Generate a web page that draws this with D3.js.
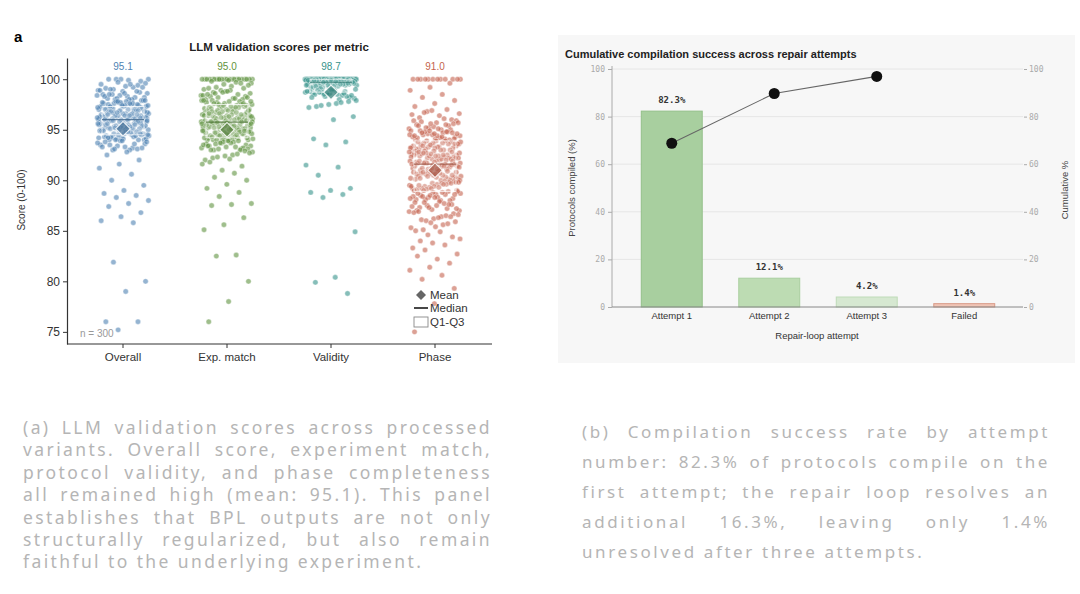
<!DOCTYPE html>
<html>
<head>
<meta charset="utf-8">
<script src="https://cdn.jsdelivr.net/npm/d3@7"></script>
<style>
  body { margin: 0; width: 1080px; height: 594px; overflow: hidden; position: relative; background: #fff; font-family: "Liberation Sans", Arial, sans-serif; }
  svg { position: absolute; left: 0; top: 0; }
  .cap { position: absolute; color: #b5b5b5; font-family: "Noto Sans", sans-serif; }
  .cap div { text-align: justify; text-align-last: justify; }
  .cap div.last { text-align-last: left; }
  #capA { left: 23px; top: 416px; width: 469px; font-size: 17.5px; line-height: 22.4px; letter-spacing: 2.4px; }
  #capB { left: 582px; top: 417px; width: 468px; font-size: 17px; line-height: 30px; letter-spacing: 2.6px; }
</style>
</head>
<body>
<script>
// ---- panel a data ----
const categories = ["Overall", "Exp. match", "Validity", "Phase"];
const meanLabels = [95.1, 95.0, 98.7, 91.0];
const groupColors = ["#4f82b3", "#5f9240", "#35928a", "#c4634e"];
const yTicksA = [75, 80, 85, 90, 95, 100];

const overallScores = [100,100,99.9,100,99.8,100,
  99.5,99.2,99.0,99.6,99.3,99.1,99.4,99.7,98.9,99.5,99.0,99.2,
  98.8,98.5,98.2,98.0,98.6,98.3,98.1,98.7,98.4,98.9,98.0,98.5,98.2,98.6,98.3,98.8,98.1,98.4,98.0,98.5,
  97.9,97.5,97.2,97.0,97.6,97.3,97.8,97.1,97.4,97.7,97.0,97.5,97.2,97.9,97.3,97.6,97.1,97.8,97.4,97.0,97.5,97.2,97.7,97.3,97.6,97.1,97.9,97.4,97.0,97.5,97.8,97.2,97.6,97.3,97.1,97.4,97.7,
  96.9,96.5,96.2,96.0,96.6,96.3,96.8,96.1,96.4,96.7,96.0,96.5,96.2,96.9,96.3,96.6,96.1,96.8,96.4,96.0,96.5,96.2,96.7,96.3,96.6,96.1,96.9,96.4,96.0,96.5,96.8,96.2,96.6,96.3,96.1,96.4,96.7,96.0,96.5,96.2,96.9,96.3,96.6,96.1,96.8,96.4,96.0,96.5,96.7,96.2,96.4,
  95.9,95.5,95.2,95.0,95.6,95.3,95.8,95.1,95.4,95.7,95.0,95.5,95.2,95.9,95.3,95.6,95.1,95.8,95.4,95.0,95.5,95.2,95.7,95.3,95.6,95.1,95.9,95.4,95.0,95.5,95.8,95.2,95.6,95.3,95.1,95.4,95.7,95.0,95.5,95.2,95.9,95.3,95.6,95.1,95.8,
  94.9,94.5,94.2,94.0,94.6,94.3,94.8,94.1,94.4,94.7,94.0,94.5,94.2,94.9,94.3,94.6,94.1,94.8,94.4,94.0,94.5,94.2,94.7,94.3,94.6,94.1,94.9,94.4,94.0,94.5,94.8,94.2,94.6,
  93.9,93.5,93.2,93.0,93.6,93.3,93.8,93.1,93.4,93.7,93.0,93.5,93.2,93.9,93.3,93.6,93.1,93.8,
  92.8,92.5,92.0,91.6,91.2,90.6,90.0,89.5,89.0,88.7,88.5,88.3,88.0,87.7,87.4,86.8,86.4,86.0,85.8,81.9,80.0,79.0,76.0,76.0,75.2];

const expMatchScores = [100,100,100,100,100,100,100,100,100,100,100,100,100,100,100,100,100,100,100,100,100,100,
  99.6,99.3,99.8,99.1,99.5,99.0,99.7,99.2,99.4,99.9,99.1,99.6,
  98.9,98.4,98.1,98.7,98.3,98.8,98.0,98.5,98.2,98.6,98.9,98.3,98.0,98.7,98.4,98.1,98.6,98.2,98.8,98.5,
  97.8,97.2,97.5,97.0,97.9,97.3,97.6,97.1,97.4,97.7,97.0,97.8,97.2,97.5,97.3,97.9,97.1,97.6,97.4,97.0,97.7,97.2,97.5,97.8,97.3,97.1,97.6,97.4,97.9,97.2,
  96.7,96.2,96.9,96.4,96.0,96.6,96.1,96.8,96.3,96.5,96.0,96.7,96.2,96.9,96.4,96.1,96.6,96.3,96.8,96.5,96.0,96.2,96.7,96.4,96.9,96.1,96.6,96.3,96.5,96.8,96.0,96.2,96.4,96.7,96.1,96.9,96.3,96.6,96.5,96.2,
  95.8,95.3,95.6,95.1,95.9,95.4,95.0,95.7,95.2,95.5,95.8,95.1,95.6,95.3,95.0,95.9,95.4,95.7,95.2,95.5,95.0,95.8,95.3,95.6,95.1,95.4,95.9,95.2,95.7,95.5,95.0,95.3,95.8,95.1,95.6,95.4,95.2,95.9,95.7,95.5,95.0,95.3,95.6,95.1,95.8,
  94.6,94.1,94.9,94.3,94.7,94.0,94.5,94.2,94.8,94.4,94.1,94.6,94.0,94.9,94.3,94.7,94.2,94.5,94.8,94.0,94.4,94.6,94.1,94.9,94.3,94.7,94.2,94.5,94.0,94.8,94.4,94.6,94.1,94.3,94.9,94.7,94.2,94.5,94.0,94.8,
  93.9,93.4,93.1,93.7,93.2,93.8,93.0,93.5,93.3,93.6,93.9,93.1,93.4,93.7,93.0,93.2,93.8,93.5,93.3,93.6,93.1,93.9,93.4,93.0,93.7,
  92.8,92.5,92.2,92.9,92.4,92.0,92.6,92.3,92.7,92.1,
  91.8,91.4,91.0,91.6,90.7,90.3,90.0,89.6,89.2,88.8,88.4,87.7,87.6,87.5,86.3,85.6,85.1,82.6,82.5,80.0,78.0,76.0];

const validityScores = [100,100,100,100,100,100,100,100,100,100,100,100,100,100,100,100,100,100,100,100,
  100,100,100,100,100,100,100,100,100,100,100,100,100,100,100,100,100,100,100,100,
  100,100,100,100,100,100,100,100,100,100,100,100,100,100,100,100,100,100,100,100,
  99.9,99.7,99.8,99.5,99.9,99.6,99.8,99.4,99.7,99.9,99.3,99.6,99.8,99.5,99.9,99.7,99.2,99.8,99.6,99.4,
  99.9,99.7,99.5,99.8,99.3,99.6,99.9,99.1,99.7,99.8,99.4,99.6,99.9,99.5,99.2,99.7,99.8,99.0,99.6,99.3,
  99.9,99.5,99.7,99.4,99.8,99.1,99.6,99.9,99.2,99.5,99.7,99.0,99.8,99.3,99.6,99.4,99.9,99.5,99.1,99.7,
  98.9,98.6,98.8,98.3,98.7,98.5,98.9,98.2,98.6,98.8,98.4,98.7,98.1,98.9,98.5,98.3,98.6,98.8,98.0,98.7,98.4,98.9,98.2,98.6,98.5,
  97.9,97.6,97.3,97.8,97.5,97.2,97.7,97.4,
  96.3,96.0,94.1,93.8,93.5,91.5,91.3,90.5,89.2,89.0,88.8,88.6,88.3,84.9,80.4,79.9,78.8];

const phaseScores = [100,100,100,100,100,100,100,100,100,100,100,100,
  99.6,99.2,98.9,98.5,98.2,97.9,97.6,97.3,97.0,96.8,96.6,96.4,96.2,96.0,96.9,96.5,96.1,96.7,
  95.9,95.7,95.5,95.4,95.2,95.1,95.0,95.8,95.6,95.3,95.9,95.5,95.2,95.7,95.1,95.4,95.0,95.6,
  94.9,94.7,94.5,94.3,94.1,94.0,94.8,94.6,94.4,94.2,94.9,94.7,94.5,94.3,94.1,94.8,94.6,94.4,94.2,94.0,94.9,94.5,94.3,94.7,94.1,94.6,94.4,94.8,
  93.9,93.6,93.3,93.1,93.8,93.5,93.2,93.0,93.7,93.4,93.9,93.1,93.6,93.3,93.8,93.0,93.5,93.2,93.7,93.4,93.9,93.1,93.6,93.3,93.8,93.0,93.5,93.2,93.7,93.4,93.6,93.2,
  92.9,92.5,92.2,92.7,92.0,92.4,92.8,92.1,92.6,92.3,92.9,92.5,92.0,92.7,92.2,92.4,92.8,92.1,92.6,92.3,92.9,92.5,92.0,92.7,92.2,92.4,92.8,92.1,92.6,92.3,92.5,92.7,92.2,92.4,
  91.8,91.4,91.1,91.7,91.3,91.0,91.9,91.5,91.2,91.6,91.8,91.4,91.1,91.7,91.3,91.0,91.9,91.5,91.2,91.6,91.8,91.4,91.1,91.7,91.3,91.0,91.9,91.5,91.2,91.6,91.4,91.7,
  90.8,90.3,90.6,90.1,90.9,90.4,90.0,90.7,90.2,90.5,90.8,90.3,90.6,90.1,90.9,90.4,90.0,90.7,90.2,90.5,90.8,90.3,90.6,90.1,90.9,90.4,90.0,90.7,90.2,90.5,
  89.7,89.2,89.9,89.4,89.0,89.6,89.1,89.8,89.3,89.5,89.7,89.2,89.9,89.4,89.0,89.6,89.1,89.8,89.3,89.5,89.7,89.2,89.4,89.6,89.0,89.8,
  88.6,88.1,88.9,88.3,88.7,88.0,88.5,88.2,88.8,88.4,88.6,88.1,88.9,88.3,88.7,88.0,88.5,88.2,88.8,88.4,88.6,88.3,
  87.8,87.2,87.5,87.0,87.9,87.3,87.6,87.1,87.4,87.7,87.8,87.2,87.5,87.0,87.6,87.3,
  86.9,86.4,86.1,86.7,86.2,86.8,86.5,86.0,86.6,86.3,86.9,86.4,
  85.8,85.3,85.6,85.1,85.9,85.4,85.0,85.7,
  84.6,84.2,84.9,84.0,84.4, 83.8,83.3,83.6,83.1, 82.7,82.2,82.5, 81.8,81.4,81.1, 80.6,80.2,
  79.3,77.8,75.0];

const scoreGroups = [overallScores, expMatchScores, validityScores, phaseScores];

// ---- panel b data ----
const attempts = ["Attempt 1", "Attempt 2", "Attempt 3", "Failed"];
const compiledPct = [82.3, 12.1, 4.2, 1.4];
const cumulativePct = [68.8, 89.7, 96.9];
const barFills = ["#a8cf9f", "#bddcb3", "#d6e8d1", "#f0c5b6"];
const barStrokes = ["#93c089", "#a9cf9e", "#bfdbb8", "#d99a86"];
const yTicksB = [0, 20, 40, 60, 80, 100];

const svg = d3.select("body").append("svg")
  .attr("width", 1080)
  .attr("height", 594);

// ================= panel a =================
const yA = d3.scaleLinear().domain([73.8, 102.1]).range([344, 58]);
const xA = d3.scaleBand().domain(categories).range([71, 487]);

svg.append("text").attr("x", 14).attr("y", 42)
  .style("font-size", "15px").style("font-weight", "bold").text("a");

svg.append("text").attr("x", 279).attr("y", 51).attr("text-anchor", "middle")
  .style("font-size", "11.5px").style("font-weight", "bold").attr("fill", "#222")
  .text("LLM validation scores per metric");

let yAxisA = svg.append("g")
  .attr("transform", "translate(67,0)")
  .call(d3.axisLeft(yA).tickValues(yTicksA).tickSize(4).tickSizeOuter(0));
yAxisA.select(".domain").attr("stroke", "#333").attr("stroke-width", 1.2);
yAxisA.selectAll(".tick line").attr("stroke", "#333");
yAxisA.selectAll(".tick text").attr("fill", "#333")
  .style("font-size", "12px").style("font-family", "Liberation Sans, Arial, sans-serif");

let xAxisA = svg.append("g")
  .attr("transform", "translate(0,344)")
  .call(d3.axisBottom(xA).tickSize(4).tickSizeOuter(0));
xAxisA.select(".domain").remove();
xAxisA.selectAll(".tick line").attr("stroke", "#333");
xAxisA.selectAll(".tick text").attr("fill", "#333").attr("dy", "0.9em")
  .style("font-size", "11.5px").style("font-family", "Liberation Sans, Arial, sans-serif");
svg.append("line").attr("x1", 67).attr("x2", 492).attr("y1", 344).attr("y2", 344)
  .attr("stroke", "#333").attr("stroke-width", 1.2);

svg.append("text")
  .attr("transform", "translate(25,200) rotate(-90)")
  .attr("text-anchor", "middle")
  .style("font-size", "10px").attr("fill", "#333")
  .text("Score (0-100)");

// deterministic jitter from the point index (layout only)
const jitter = i => ((i * 0.6180339887 + 0.37) % 1 - 0.5) * 2;

scoreGroups.forEach((vals, gi) => {
  const cat = categories[gi];
  const cx = xA(cat) + xA.bandwidth() / 2;
  const col = groupColors[gi];

  svg.append("g").selectAll("circle")
    .data(vals)
    .enter()
    .append("circle")
      .attr("cx", (d, i) => cx + jitter(i) * 26)
      .attr("cy", d => yA(d))
      .attr("r", 2.7)
      .attr("fill", col)
      .attr("fill-opacity", 0.6)
      .attr("stroke", "#fff")
      .attr("stroke-width", 0.4);

  const sorted = vals.slice().sort(d3.ascending);
  const q1 = d3.quantile(sorted, 0.25);
  const q3 = d3.quantile(sorted, 0.75);
  const med = d3.quantile(sorted, 0.5);

  svg.append("rect")
    .attr("x", cx - 21).attr("width", 42)
    .attr("y", yA(q3)).attr("height", Math.max(1, yA(q1) - yA(q3)))
    .attr("fill", "#fff").attr("fill-opacity", 0.18)
    .attr("stroke", "#fff").attr("stroke-opacity", 0.75).attr("stroke-width", 1);

  svg.append("line")
    .attr("x1", cx - 21).attr("x2", cx + 21)
    .attr("y1", yA(med)).attr("y2", yA(med))
    .attr("stroke", d3.color(col).darker(0.7)).attr("stroke-opacity", 0.8).attr("stroke-width", 1.2);

  svg.append("path")
    .attr("d", d3.symbol().type(d3.symbolSquare).size(105)())
    .attr("transform", `translate(${cx},${yA(meanLabels[gi])}) rotate(45)`)
    .attr("fill", d3.color(col).darker(0.5)).attr("fill-opacity", 0.7)
    .attr("stroke", "#fff").attr("stroke-opacity", 0.85).attr("stroke-width", 1.1);

  svg.append("text")
    .attr("x", cx).attr("y", 70).attr("text-anchor", "middle")
    .style("font-size", "10px").attr("fill", col)
    .text(meanLabels[gi].toFixed(1));
});

svg.append("text").attr("x", 80).attr("y", 337)
  .style("font-size", "10px").attr("fill", "#999").text("n = 300");

// legend
const lg = svg.append("g").style("font-size", "11.5px").attr("fill", "#333");
lg.append("path")
  .attr("d", d3.symbol().type(d3.symbolSquare).size(50)())
  .attr("transform", "translate(421,295) rotate(45)")
  .attr("fill", "#666");
lg.append("text").attr("x", 430).attr("y", 299).text("Mean");
lg.append("line").attr("x1", 414).attr("x2", 428).attr("y1", 308).attr("y2", 308)
  .attr("stroke", "#333").attr("stroke-width", 1.8);
lg.append("text").attr("x", 430).attr("y", 312).text("Median");
lg.append("rect").attr("x", 414).attr("y", 317).attr("width", 14).attr("height", 10)
  .attr("fill", "none").attr("stroke", "#888").attr("stroke-width", 0.9);
lg.append("text").attr("x", 430).attr("y", 326).text("Q1-Q3");

// ================= panel b =================
svg.append("rect").attr("x", 558).attr("y", 35).attr("width", 517).attr("height", 328)
  .attr("fill", "#f7f7f7");

const xB = d3.scaleBand().domain(attempts).range([623, 1013])
  .paddingInner(0.375).paddingOuter(0.1875);
const yB = d3.scaleLinear().domain([0, 100]).range([307, 69]);

svg.append("text").attr("x", 565).attr("y", 58)
  .style("font-size", "11px").style("font-weight", "bold").attr("fill", "#222")
  .text("Cumulative compilation success across repair attempts");

// grid
svg.append("g").selectAll("line")
  .data(yTicksB.slice(1))
  .enter()
  .append("line")
    .attr("x1", 612).attr("x2", 1023)
    .attr("y1", d => yB(d)).attr("y2", d => yB(d))
    .attr("stroke", "#e6e6e6").attr("stroke-width", 1);

let yAxisB = svg.append("g")
  .attr("transform", "translate(612,0)")
  .call(d3.axisLeft(yB).tickValues(yTicksB).tickSize(4).tickSizeOuter(0));
yAxisB.select(".domain").attr("stroke", "#aaa").attr("d", "M0,66V307");
yAxisB.selectAll(".tick line").attr("stroke", "#aaa");
yAxisB.selectAll(".tick text").attr("fill", "#aaa")
  .style("font-size", "8px").style("font-family", "DejaVu Sans Mono, monospace");

let yAxisB2 = svg.append("g")
  .attr("transform", "translate(1024,0)")
  .call(d3.axisRight(yB).tickValues(yTicksB).tickSize(3).tickSizeOuter(0));
yAxisB2.select(".domain").remove();
yAxisB2.selectAll(".tick line").attr("stroke", "#aaa");
yAxisB2.selectAll(".tick text").attr("fill", "#aaa").attr("x", 5)
  .style("font-size", "8px").style("font-family", "DejaVu Sans Mono, monospace");

svg.append("g").selectAll("rect")
  .data(compiledPct)
  .enter()
  .append("rect")
    .attr("x", (d, i) => xB(attempts[i]))
    .attr("y", d => yB(d))
    .attr("width", xB.bandwidth())
    .attr("height", d => yB(0) - yB(d))
    .attr("fill", (d, i) => barFills[i])
    .attr("stroke", (d, i) => barStrokes[i])
    .attr("stroke-width", 1);

svg.append("g").selectAll("text")
  .data(compiledPct)
  .enter()
  .append("text")
    .attr("x", (d, i) => xB(attempts[i]) + xB.bandwidth() / 2)
    .attr("y", d => yB(d) - 8)
    .attr("text-anchor", "middle")
    .style("font-size", "9px").style("font-weight", "bold")
    .style("font-family", "DejaVu Sans Mono, monospace")
    .attr("fill", "#333")
    .text(d => d.toFixed(1) + "%");

let xAxisB = svg.append("g")
  .attr("transform", "translate(0,307)")
  .call(d3.axisBottom(xB).tickSize(0).tickSizeOuter(0));
xAxisB.select(".domain").attr("stroke", "#888").attr("d", "M612,0H1023");
xAxisB.selectAll(".tick text").attr("fill", "#333").attr("dy", "0.95em")
  .style("font-size", "9.5px").style("font-family", "Liberation Sans, Arial, sans-serif");

svg.append("text").attr("x", 817).attr("y", 339).attr("text-anchor", "middle")
  .style("font-size", "9.5px").attr("fill", "#333").text("Repair-loop attempt");

svg.append("text")
  .attr("transform", "translate(575,188) rotate(-90)")
  .attr("text-anchor", "middle")
  .style("font-size", "9.5px").attr("fill", "#444")
  .text("Protocols compiled (%)");

svg.append("text")
  .attr("transform", "translate(1068,190) rotate(-90)")
  .attr("text-anchor", "middle")
  .style("font-size", "9.5px").attr("fill", "#444")
  .text("Cumulative %");

// cumulative line
const linePts = cumulativePct.map((v, i) => [xB(attempts[i]) + xB.bandwidth() / 2 + i * 5, yB(v)]);
svg.append("path")
  .attr("d", d3.line()(linePts))
  .attr("fill", "none").attr("stroke", "#666").attr("stroke-width", 1.1);
svg.append("g").selectAll("circle")
  .data(linePts)
  .enter()
  .append("circle")
    .attr("cx", d => d[0]).attr("cy", d => d[1])
    .attr("r", 5.5).attr("fill", "#111");

// ================= captions =================
const captionA = [
  "(a) LLM validation scores across processed",
  "variants. Overall score, experiment match,",
  "protocol validity, and phase completeness",
  "all remained high (mean: 95.1). This panel",
  "establishes that BPL outputs are not only",
  "structurally regularized, but also remain",
  "faithful to the underlying experiment."
];
const captionB = [
  "(b) Compilation success rate by attempt",
  "number: 82.3% of protocols compile on the",
  "first attempt; the repair loop resolves an",
  "additional 16.3%, leaving only 1.4%",
  "unresolved after three attempts."
];

function caption(id, lines) {
  d3.select("body").append("div").attr("id", id).attr("class", "cap")
    .selectAll("div")
    .data(lines)
    .enter()
    .append("div")
      .attr("class", (d, i) => i === lines.length - 1 ? "last" : null)
      .text(d => d);
}
caption("capA", captionA);
caption("capB", captionB);
</script>
</body>
</html>
